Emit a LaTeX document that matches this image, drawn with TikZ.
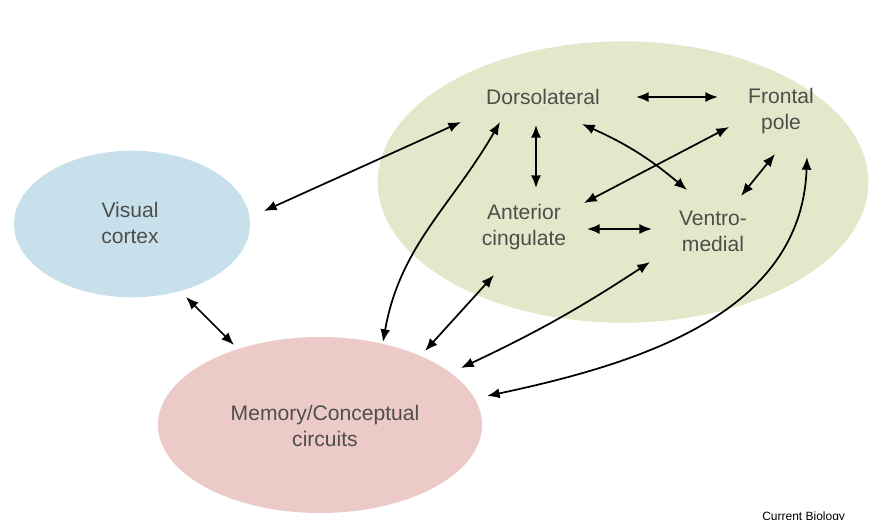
\documentclass[tikz,border=0pt]{standalone}
\usepackage{fontspec}
\setmainfont{Liberation Sans}
\usetikzlibrary{arrows.meta,shapes.geometric}
\definecolor{pfc}{RGB}{228,232,202}
\definecolor{vis}{RGB}{200,224,236}
\definecolor{mem}{RGB}{236,202,200}
\definecolor{txt}{RGB}{78,78,74}
\tikzset{
  region/.style={ellipse, draw=none, inner sep=0pt},
  lab/.style={text=txt, font=\fontsize{15.8}{19.5}\selectfont, align=center, inner sep=0pt},
  link/.style={line width=1.3pt, {Latex[length=9.5pt,width=7.5pt]}-{Latex[length=9.5pt,width=7.5pt]}},
}
\begin{document}
\begin{tikzpicture}[x=0.75pt,y=-0.75pt]
\useasboundingbox (0,0) rectangle (871,519);
% regions
\node[region, fill=pfc, minimum width=368pt, minimum height=211pt] (pfcreg) at (623,182) {};
\node[region, fill=vis, minimum width=177pt, minimum height=110pt] (visreg) at (132,224) {};
\node[region, fill=mem, minimum width=243pt, minimum height=132pt] (memreg) at (320,425) {};
% labels
\node[lab] (dl) at (543,97) {Dorsolateral};
\node[lab] (fp) at (781,111) {Frontal\\pole};
\node[lab] (vc) at (130,223) {Visual\\cortex};
\node[lab] (ac) at (524,227) {Anterior\\cingulate};
\node[lab] (vm) at (713,231) {Ventro-\\medial};
\node[lab] (mc) at (325,426) {Memory/Conceptual\\circuits};
\node[anchor=base west, font=\fontsize{9}{10}\selectfont, inner sep=0pt] (cb) at (762,520) {Current Biology};
% connector ends
\coordinate (dlR) at (636,97);  \coordinate (fpL) at (718,97);
\coordinate (vcR) at (264,211); \coordinate (dlLL) at (461,122);
\coordinate (dlB) at (536,125); \coordinate (acT) at (536,188);
\coordinate (dlBR) at (582,124); \coordinate (vmTL) at (687,190);
\coordinate (fpBL) at (729,127); \coordinate (acTR) at (584,203);
\coordinate (fpB) at (775,154); \coordinate (vmTR) at (741,196);
\coordinate (acR) at (587,229); \coordinate (vmL) at (652,229);
\coordinate (vcB) at (186,297); \coordinate (mcTL) at (234,345);
\coordinate (mcT) at (383,342); \coordinate (dlBL) at (500,122);
\coordinate (mcT2) at (425,351); \coordinate (acB) at (494,275);
\coordinate (mcTR) at (461,368); \coordinate (vmBL) at (650,262);
\coordinate (mcR) at (487,396); \coordinate (fpBR) at (807,157);
% connectors
\draw[link] (dlR) -- (fpL);
\draw[link] (vcR) -- (dlLL);
\draw[link] (dlB) -- (acT);
\draw[link] (dlBR) to[bend left=8] (vmTL);
\draw[link] (fpBL) -- (acTR);
\draw[link] (fpB) -- (vmTR);
\draw[link] (acR) -- (vmL);
\draw[link] (vcB) -- (mcTL);
\draw[link] (mcT) to[out=80,in=-120] (dlBL);
\draw[link] (mcT2) -- (acB);
\draw[link] (mcTR) to[bend right=4] (vmBL);
\draw[link] (mcR) to[out=12,in=-92] (fpBR);
\end{tikzpicture}
\end{document}
